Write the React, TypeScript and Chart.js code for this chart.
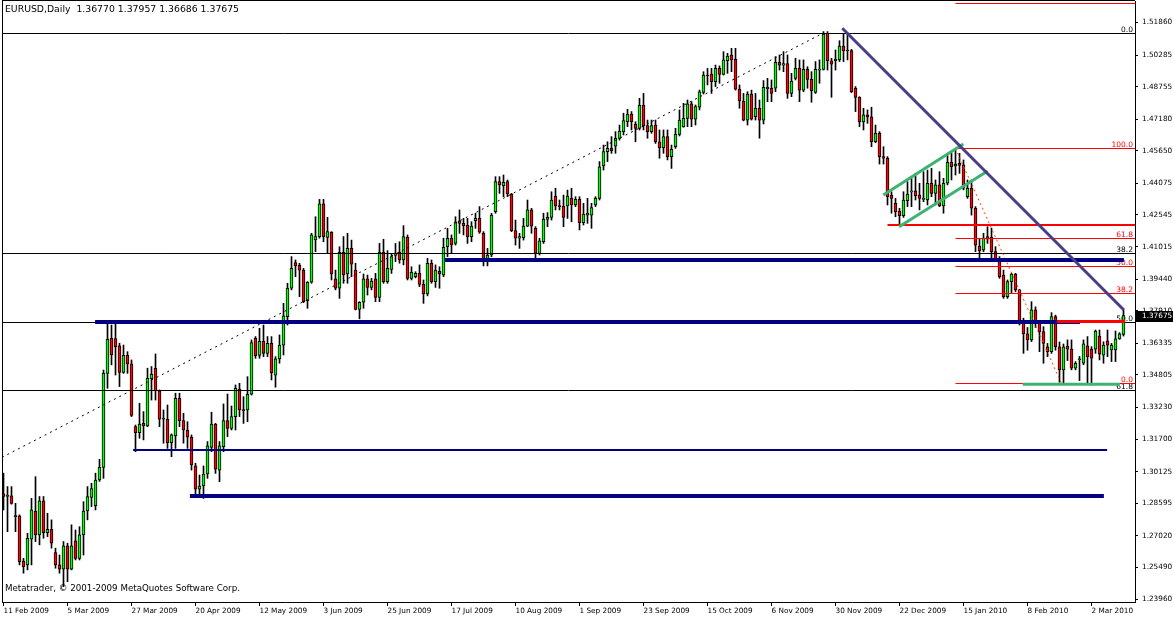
import React, { useEffect, useRef } from 'react';
import { Chart, registerables } from 'chart.js';

Chart.register(...registerables);

// ---------------- DATA ----------------
const opens = [
  1.2905, 1.2892, 1.2895, 1.2800, 1.2798, 1.2580, 1.2561, 1.2685, 1.2822, 1.2706,
  1.2871, 1.2717, 1.2733, 1.2621, 1.2561, 1.2540, 1.2653, 1.2540, 1.2677, 1.2593,
  1.2706, 1.2822, 1.2888, 1.2848, 1.2972, 1.3033, 1.3488, 1.3658, 1.3656, 1.3621,
  1.3493, 1.3575, 1.3534, 1.3230, 1.3201, 1.3246, 1.3234, 1.3462, 1.3512, 1.3404,
  1.3266, 1.3266, 1.3153, 1.3185, 1.3367, 1.3259, 1.3214, 1.3179, 1.3040, 1.2927,
  1.2943, 1.3001, 1.3130, 1.3243, 1.3020, 1.3133, 1.3259, 1.3222, 1.3279, 1.3412,
  1.3311, 1.3311, 1.3387, 1.3658, 1.3575, 1.3643, 1.3585, 1.3633, 1.3479, 1.3558,
  1.3625, 1.3762, 1.3900, 1.4024, 1.4011, 1.3988, 1.3840, 1.3929, 1.4134, 1.4150,
  1.4308, 1.4146, 1.4171, 1.3945, 1.3900, 1.4074, 1.3969, 1.4093, 1.3988, 1.3798,
  1.3832, 1.3945, 1.3904, 1.3945, 1.3856, 1.4075, 1.3932, 1.3991, 1.4059, 1.4075,
  1.4037, 1.4146, 1.3948, 1.3956, 1.3972, 1.3919, 1.3872, 1.4021, 1.3932, 1.3982,
  1.3964, 1.4101, 1.4142, 1.4117, 1.4226, 1.4214, 1.4204, 1.4150, 1.4227, 1.4238,
  1.4166, 1.4034, 1.4061, 1.4271, 1.4416, 1.4396, 1.4416, 1.4356, 1.4179, 1.4142,
  1.4145, 1.4201, 1.4279, 1.4190, 1.4069, 1.4125, 1.4233, 1.4243, 1.4346, 1.4300,
  1.4298, 1.4298, 1.4335, 1.4303, 1.4330, 1.4217, 1.4254, 1.4254, 1.4303, 1.4335,
  1.4492, 1.4561, 1.4577, 1.4588, 1.4625, 1.4658, 1.4706, 1.4743, 1.4693, 1.4674,
  1.4785, 1.4687, 1.4658, 1.4690, 1.4609, 1.4580, 1.4634, 1.4537, 1.4585, 1.4645,
  1.4682, 1.4722, 1.4792, 1.4718, 1.4776, 1.4848, 1.4932, 1.4937, 1.4900, 1.4964,
  1.4935, 1.5001, 1.5029, 1.5008, 1.4863, 1.4806, 1.4714, 1.4840, 1.4730, 1.4771,
  1.4714, 1.4866, 1.4868, 1.4868, 1.4993, 1.4980, 1.4987, 1.4843, 1.4916, 1.4964,
  1.4859, 1.4959, 1.4911, 1.4848, 1.4956, 1.4959, 1.5134, 1.5001, 1.5001, 1.5005,
  1.5072, 1.5053, 1.5050, 1.4868, 1.4824, 1.4705, 1.4739, 1.4729, 1.4609, 1.4650,
  1.4537, 1.4529, 1.4351, 1.4311, 1.4274, 1.4251, 1.4324, 1.4366, 1.4371, 1.4351,
  1.4330, 1.4327, 1.4408, 1.4359, 1.4400, 1.4298, 1.4408, 1.4509, 1.4492, 1.4505,
  1.4497, 1.4343, 1.4384, 1.4287, 1.4104, 1.4085, 1.4150, 1.4146, 1.4077, 1.4032,
  1.3964, 1.3859, 1.3932, 1.3969, 1.3892, 1.3730, 1.3679, 1.3650, 1.3795, 1.3730,
  1.3690, 1.3617, 1.3593, 1.3763, 1.3617, 1.3505, 1.3620, 1.3605, 1.3513, 1.3554,
  1.3537, 1.3621, 1.3605, 1.3605, 1.3669, 1.3576, 1.3645, 1.3601, 1.3601, 1.3655, 1.36770,
];

const highs = [
  1.3005, 1.2940, 1.2940, 1.2859, 1.2803, 1.2593, 1.2714, 1.2883, 1.2988, 1.2892,
  1.2892, 1.2811, 1.2779, 1.2642, 1.2609, 1.2674, 1.2666, 1.2755, 1.2730, 1.2746,
  1.2867, 1.2940, 1.2956, 1.3005, 1.3072, 1.3504, 1.3738, 1.3722, 1.3738, 1.3634,
  1.3625, 1.3593, 1.3553, 1.3238, 1.3343, 1.3303, 1.3513, 1.3521, 1.3582, 1.3408,
  1.3311, 1.3335, 1.3195, 1.3392, 1.3392, 1.3295, 1.3254, 1.3190, 1.3053, 1.2996,
  1.3040, 1.3158, 1.3300, 1.3246, 1.3158, 1.3340, 1.3388, 1.3330, 1.3432, 1.3440,
  1.3375, 1.3472, 1.3650, 1.3666, 1.3706, 1.3722, 1.3666, 1.3666, 1.3569, 1.3674,
  1.3827, 1.3924, 1.4053, 1.4037, 1.4021, 1.3996, 1.3932, 1.4166, 1.4246, 1.4330,
  1.4330, 1.4243, 1.4174, 1.3988, 1.4101, 1.4150, 1.4166, 1.4133, 1.4021, 1.3835,
  1.3969, 1.3964, 1.3948, 1.3972, 1.4117, 1.4137, 1.4082, 1.4064, 1.4117, 1.4125,
  1.4203, 1.4158, 1.4004, 1.3980, 1.4013, 1.3940, 1.4045, 1.4037, 1.4013, 1.4004,
  1.4142, 1.4190, 1.4158, 1.4246, 1.4279, 1.4238, 1.4238, 1.4222, 1.4263, 1.4295,
  1.4174, 1.4093, 1.4263, 1.4440, 1.4440, 1.4448, 1.4424, 1.4359, 1.4230, 1.4166,
  1.4238, 1.4327, 1.4287, 1.4198, 1.4142, 1.4263, 1.4266, 1.4367, 1.4384, 1.4327,
  1.4351, 1.4375, 1.4384, 1.4343, 1.4343, 1.4311, 1.4335, 1.4311, 1.4343, 1.4513,
  1.4593, 1.4609, 1.4634, 1.4658, 1.4690, 1.4747, 1.4766, 1.4755, 1.4706, 1.4819,
  1.4843, 1.4714, 1.4714, 1.4714, 1.4666, 1.4666, 1.4666, 1.4593, 1.4674, 1.4763,
  1.4795, 1.4811, 1.4803, 1.4787, 1.4859, 1.4948, 1.4964, 1.4964, 1.4980, 1.4976,
  1.5045, 1.5037, 1.5061, 1.5061, 1.4884, 1.4843, 1.4851, 1.4859, 1.4843, 1.4811,
  1.4905, 1.4916, 1.4908, 1.5021, 1.5029, 1.5045, 1.5029, 1.4940, 1.5013, 1.5005,
  1.5005, 1.4972, 1.4948, 1.4997, 1.5005, 1.5142, 1.5142, 1.5013, 1.5053, 1.5098,
  1.5134, 1.5137, 1.5056, 1.4876, 1.4827, 1.4771, 1.4763, 1.4776, 1.4690, 1.4658,
  1.4585, 1.4537, 1.4367, 1.4335, 1.4287, 1.4367, 1.4416, 1.4432, 1.4456, 1.4408,
  1.4464, 1.4472, 1.4480, 1.4424, 1.4464, 1.4432, 1.4553, 1.4553, 1.4577, 1.4553,
  1.4521, 1.4424, 1.4424, 1.4295, 1.4142, 1.4166, 1.4198, 1.4190, 1.4101, 1.4053,
  1.3988, 1.3940, 1.3972, 1.3972, 1.3895, 1.3755, 1.3710, 1.3835, 1.3810, 1.3738,
  1.3714, 1.3633, 1.3782, 1.3770, 1.3640, 1.3630, 1.3650, 1.3650, 1.3545, 1.3570,
  1.3650, 1.3666, 1.3617, 1.3698, 1.3698, 1.3641, 1.3698, 1.3633, 1.3693, 1.3685, 1.37957,
];

const lows = [
  1.2827, 1.2722, 1.2855, 1.2722, 1.2561, 1.2521, 1.2537, 1.2561, 1.2674, 1.2658,
  1.2690, 1.2698, 1.2642, 1.2545, 1.2521, 1.2456, 1.2480, 1.2537, 1.2585, 1.2585,
  1.2609, 1.2779, 1.2843, 1.2827, 1.2965, 1.2980, 1.3416, 1.3529, 1.3480, 1.3424,
  1.3488, 1.3488, 1.3279, 1.3109, 1.3174, 1.3166, 1.3230, 1.3359, 1.3359, 1.3230,
  1.3150, 1.3125, 1.3085, 1.3125, 1.3230, 1.3150, 1.3125, 1.3020, 1.2892, 1.2892,
  1.2883, 1.2980, 1.3109, 1.3004, 1.2964, 1.3109, 1.3182, 1.3214, 1.3214, 1.3279,
  1.3246, 1.3254, 1.3383, 1.3561, 1.3561, 1.3569, 1.3569, 1.3456, 1.3421, 1.3537,
  1.3577, 1.3722, 1.3892, 1.3956, 1.3859, 1.3830, 1.3803, 1.3924, 1.4077, 1.4142,
  1.4125, 1.4069, 1.3940, 1.3892, 1.3851, 1.3924, 1.3924, 1.3956, 1.3795, 1.3752,
  1.3803, 1.3867, 1.3892, 1.3835, 1.3835, 1.3924, 1.3924, 1.3972, 1.4029, 1.4021,
  1.4013, 1.3940, 1.3940, 1.3950, 1.3908, 1.3827, 1.3863, 1.3924, 1.3904, 1.3900,
  1.3956, 1.4053, 1.4069, 1.4109, 1.4166, 1.4158, 1.4117, 1.4125, 1.4190, 1.4166,
  1.4008, 1.4008, 1.4053, 1.4263, 1.4359, 1.4343, 1.4343, 1.4174, 1.4109, 1.4093,
  1.4133, 1.4198, 1.4166, 1.4040, 1.4061, 1.4117, 1.4198, 1.4230, 1.4279, 1.4279,
  1.4198, 1.4238, 1.4222, 1.4295, 1.4182, 1.4206, 1.4214, 1.4190, 1.4295, 1.4327,
  1.4472, 1.4513, 1.4553, 1.4553, 1.4617, 1.4642, 1.4682, 1.4666, 1.4609, 1.4666,
  1.4666, 1.4626, 1.4650, 1.4601, 1.4529, 1.4553, 1.4521, 1.4480, 1.4577, 1.4637,
  1.4679, 1.4682, 1.4682, 1.4690, 1.4763, 1.4840, 1.4884, 1.4843, 1.4876, 1.4892,
  1.4932, 1.4940, 1.4948, 1.4859, 1.4771, 1.4710, 1.4690, 1.4714, 1.4714, 1.4626,
  1.4695, 1.4803, 1.4803, 1.4851, 1.4956, 1.4948, 1.4819, 1.4827, 1.4908, 1.4803,
  1.4851, 1.4868, 1.4800, 1.4843, 1.4892, 1.4956, 1.4956, 1.4824, 1.4956, 1.4997,
  1.4997, 1.5005, 1.4847, 1.4755, 1.4682, 1.4666, 1.4698, 1.4585, 1.4604, 1.4501,
  1.4501, 1.4303, 1.4263, 1.4246, 1.4206, 1.4243, 1.4295, 1.4295, 1.4327, 1.4279,
  1.4319, 1.4303, 1.4343, 1.4303, 1.4295, 1.4263, 1.4400, 1.4424, 1.4448, 1.4456,
  1.4376, 1.4335, 1.4254, 1.4077, 1.4029, 1.4077, 1.4117, 1.4037, 1.4029, 1.3948,
  1.3851, 1.3851, 1.3875, 1.3883, 1.3722, 1.3585, 1.3600, 1.3642, 1.3710, 1.3593,
  1.3537, 1.3569, 1.3585, 1.3600, 1.3445, 1.3440, 1.3550, 1.3505, 1.3505, 1.3453,
  1.3530, 1.3440, 1.3432, 1.3585, 1.3553, 1.3537, 1.3569, 1.3545, 1.3545, 1.3653, 1.36686,
];

const closes = [
  1.2892, 1.2899, 1.2859, 1.2795, 1.2577, 1.2553, 1.2690, 1.2827, 1.2706, 1.2871,
  1.2717, 1.2733, 1.2666, 1.2561, 1.2540, 1.2653, 1.2540, 1.2653, 1.2593, 1.2706,
  1.2822, 1.2892, 1.2930, 1.2972, 1.3033, 1.3488, 1.3653, 1.3577, 1.3617, 1.3493,
  1.3575, 1.3534, 1.3284, 1.3201, 1.3242, 1.3234, 1.3464, 1.3483, 1.3404, 1.3266,
  1.3271, 1.3153, 1.3190, 1.3367, 1.3259, 1.3214, 1.3179, 1.3045, 1.2927, 1.2943,
  1.3001, 1.3137, 1.3243, 1.3024, 1.3137, 1.3259, 1.3222, 1.3279, 1.3416, 1.3311,
  1.3308, 1.3387, 1.3637, 1.3574, 1.3643, 1.3585, 1.3633, 1.3492, 1.3558, 1.3625,
  1.3767, 1.3900, 1.3996, 1.4008, 1.3988, 1.3835, 1.3929, 1.4158, 1.4150, 1.4308,
  1.4150, 1.4174, 1.3969, 1.3900, 1.4074, 1.3964, 1.4093, 1.4017, 1.3798, 1.3832,
  1.3945, 1.3904, 1.3935, 1.3856, 1.4075, 1.3932, 1.3996, 1.4053, 1.4067, 1.4037,
  1.4150, 1.3948, 1.3977, 1.3972, 1.3919, 1.3872, 1.4021, 1.3932, 1.3988, 1.3969,
  1.4098, 1.4142, 1.4110, 1.4222, 1.4214, 1.4203, 1.4150, 1.4201, 1.4238, 1.4171,
  1.4029, 1.4061, 1.4254, 1.4416, 1.4400, 1.4413, 1.4356, 1.4179, 1.4142, 1.4150,
  1.4201, 1.4279, 1.4201, 1.4069, 1.4129, 1.4233, 1.4243, 1.4327, 1.4298, 1.4295,
  1.4243, 1.4346, 1.4303, 1.4330, 1.4217, 1.4259, 1.4263, 1.4290, 1.4335, 1.4488,
  1.4561, 1.4577, 1.4566, 1.4625, 1.4661, 1.4711, 1.4743, 1.4706, 1.4674, 1.4785,
  1.4687, 1.4658, 1.4687, 1.4609, 1.4580, 1.4634, 1.4537, 1.4572, 1.4645, 1.4714,
  1.4722, 1.4792, 1.4718, 1.4779, 1.4851, 1.4932, 1.4927, 1.4900, 1.4964, 1.4935,
  1.5005, 1.5024, 1.5005, 1.4863, 1.4806, 1.4714, 1.4840, 1.4718, 1.4771, 1.4714,
  1.4872, 1.4872, 1.4843, 1.4993, 1.4980, 1.4987, 1.4843, 1.4903, 1.4964, 1.4859,
  1.4959, 1.4911, 1.4856, 1.4959, 1.4959, 1.5130, 1.5001, 1.4984, 1.5008, 1.5072,
  1.5048, 1.5048, 1.4851, 1.4824, 1.4705, 1.4739, 1.4729, 1.4609, 1.4650, 1.4537,
  1.4529, 1.4343, 1.4335, 1.4271, 1.4251, 1.4327, 1.4356, 1.4371, 1.4348, 1.4335,
  1.4335, 1.4408, 1.4359, 1.4400, 1.4298, 1.4408, 1.4509, 1.4488, 1.4501, 1.4495,
  1.4384, 1.4384, 1.4287, 1.4109, 1.4082, 1.4142, 1.4138, 1.4077, 1.4037, 1.3956,
  1.3859, 1.3932, 1.3969, 1.3892, 1.3730, 1.3679, 1.3650, 1.3795, 1.3730, 1.3690,
  1.3633, 1.3593, 1.3763, 1.3617, 1.3505, 1.3617, 1.3605, 1.3513, 1.3537, 1.3557,
  1.3631, 1.3569, 1.3561, 1.3693, 1.3581, 1.3625, 1.3625, 1.3625, 1.3655, 1.3679, 1.37675,
];

const dateTickIndex = [0, 16, 32, 48, 64, 80, 96, 112, 128, 144, 160, 176, 192, 208, 224, 240, 256, 272];
const dateTickLabels = [
  '11 Feb 2009', '5 Mar 2009', '27 Mar 2009', '20 Apr 2009', '12 May 2009', '3 Jun 2009',
  '25 Jun 2009', '17 Jul 2009', '10 Aug 2009', '1 Sep 2009', '23 Sep 2009', '15 Oct 2009',
  '6 Nov 2009', '30 Nov 2009', '22 Dec 2009', '15 Jan 2010', '8 Feb 2010', '2 Mar 2010',
];
const priceTicks = [
  1.51860, 1.50285, 1.48755, 1.47180, 1.45650, 1.44075, 1.42545, 1.41015, 1.39440, 1.37910,
  1.36335, 1.34805, 1.33230, 1.31700, 1.30125, 1.28595, 1.27020, 1.25490, 1.23960,
];

const titleText = 'EURUSD,Daily  1.36770 1.37957 1.36686 1.37675';
const copyrightText = 'Metatrader, \u00A9 2001-2009 MetaQuotes Software Corp.';
const lastPrice = 1.37675;

// Fibonacci objects (level prices)
const blackFibLevels = [1.513286, 1.406806, 1.373410, 1.340498];
const blackFibNames = ['0.0', '38.2', '50.0', '61.8'];
const redFibFrom = 238;
const redFibLevels = [1.343886, 1.387448, 1.400514, 1.414066, 1.457626, 1.527806];
const redFibNames = ['0.0', '38.2', '50.0', '61.8', '100.0', '161.8'];
const redFibAnchorX = [238, 264.5];
const redFibAnchorY = [1.457626, 1.343886];

// horizontal levels (price) with bar-index spans
const navyLevels = [1.373652, 1.40366, 1.31170, 1.289436];
const navyFrom = [22.9, 110.4, 32.4, 46.6];
const navyTo = [269.1, 280.1, 275.9, 275.1];
const redLevelA = { from: 221, to: 290, price: 1.42060 };
const redLevelB = { from: 263.4, to: 280.4, price: 1.37389 };
const greenBase = { from: 254.8, to: 279.1, price: 1.34355 };

// trend lines [x0, y0, x1, y1] in bar-index / price
const dashedTrend = [-0.375, 1.30817, 204.8, 1.51338];
const slateTrend = [209.7, 1.51580, 280.1, 1.37946];
const greenUpper = [219.95, 1.43512, 239.95, 1.45980];
const greenLower = [223.9, 1.41978, 246.05, 1.44674];

// --------------- CHART ---------------
const X_MIN = -0.375;
const X_MAX = 282.875;
const Y_MIN = 1.238152;
const Y_MAX = 1.529016;

function seg(x0: number, y0: number, x1: number, y1: number, color: string, width: number, order: number, dash: number[] = []) {
  return {
    type: 'line' as const,
    data: [{ x: x0, y: y0 }, { x: x1, y: y1 }],
    borderColor: color,
    borderWidth: width,
    borderDash: dash,
    pointRadius: 0,
    fill: false,
    tension: 0,
    order,
  };
}

const AXIS_FONT = { family: 'DejaVu Sans', size: 7.3 };

const mtPlugin = {
  id: 'mtPlugin',
  beforeDraw(chart: any) {
    const { ctx } = chart;
    ctx.save();
    ctx.fillStyle = '#ffffff';
    ctx.fillRect(0, 0, chart.width, chart.height);
    ctx.restore();
  },
  beforeDatasetsDraw(chart: any) {
    const { ctx, chartArea: a, scales } = chart;
    const y = scales.y;
    ctx.save();
    ctx.font = '7.5px "DejaVu Sans"';
    ctx.textAlign = 'right';
    ctx.textBaseline = 'alphabetic';
    blackFibLevels.forEach((p, k) => {
      const py = y.getPixelForValue(p);
      if (py - 8 < a.top) return;
      ctx.fillStyle = '#000000';
      ctx.fillText(blackFibNames[k], a.right - 2, py - 2);
    });
    redFibLevels.forEach((p, k) => {
      const py = y.getPixelForValue(p);
      if (py - 8 < a.top) return;
      ctx.fillStyle = '#ff0000';
      ctx.fillText(redFibNames[k], a.right - 2, py - 2);
    });
    ctx.restore();
  },
  afterDraw(chart: any) {
    const { ctx, chartArea: a, scales } = chart;
    const y = scales.y;
    ctx.save();
    // frame (left and top)
    ctx.fillStyle = '#000000';
    ctx.fillRect(a.left, 0, 1, a.bottom);
    ctx.fillRect(a.left, 0, a.right - a.left, 1);
    // title
    ctx.font = '9.3px "DejaVu Sans"';
    ctx.textAlign = 'left';
    ctx.textBaseline = 'middle';
    ctx.fillStyle = '#000000';
    ctx.fillText(titleText, 5, 10);
    // copyright
    ctx.font = '8.7px "DejaVu Sans"';
    ctx.fillText(copyrightText, 5, 589);
    // last price box
    const py = Math.round(y.getPixelForValue(lastPrice));
    ctx.fillStyle = '#000000';
    ctx.fillRect(a.right + 1, py - 5, chart.width - a.right - 1, 11);
    ctx.fillStyle = '#ffffff';
    ctx.font = `${AXIS_FONT.size}px "DejaVu Sans"`;
    ctx.fillText(lastPrice.toFixed(5), a.right + 7, py + 0.5);
    ctx.restore();
  },
};

export default function App() {
  const ref = useRef<HTMLCanvasElement | null>(null);

  useEffect(() => {
    if (!ref.current) return;
    const idx = opens.map((_, i) => i);
    const wickData = idx.map((i) => ({ x: i, y: [lows[i], highs[i]] }));
    const bodyData = idx.map((i) => ({ x: i, y: [Math.min(opens[i], closes[i]), Math.max(opens[i], closes[i])] }));
    const bodyColors = idx.map((i) => (closes[i] >= opens[i] ? '#00ff00' : '#ff0000'));

    const datasets: any[] = [];
    // candles
    datasets.push({
      type: 'bar', data: bodyData, backgroundColor: bodyColors, borderColor: '#000000', borderWidth: 1,
      borderSkipped: false, barThickness: 3, grouped: false, minBarLength: 1, order: 40,
    });
    datasets.push({
      type: 'bar', data: wickData, backgroundColor: '#000000', borderWidth: 0,
      barThickness: 1, grouped: false, minBarLength: 1, order: 50,
    });
    // black fib (full width)
    blackFibLevels.forEach((p) => datasets.push(seg(-5, p, 300, p, '#000000', 1, 32)));
    // red fib
    redFibLevels.forEach((p) => datasets.push(seg(redFibFrom, p, 300, p, '#ff0000', 1, 31)));
    datasets.push(seg(redFibAnchorX[0], redFibAnchorY[0], redFibAnchorX[1], redFibAnchorY[1], '#ff4500', 1, 30, [2, 3]));
    // dashed trend
    datasets.push(seg(dashedTrend[0], dashedTrend[1], dashedTrend[2], dashedTrend[3], '#000000', 1, 29, [2, 4]));
    // navy levels
    navyLevels.forEach((p, k) => datasets.push(seg(navyFrom[k], p, navyTo[k], p, '#000080', k === 2 ? 2 : 4, 20)));
    // red thick levels
    datasets.push(seg(redLevelA.from, redLevelA.price, redLevelA.to, redLevelA.price, '#ff0000', 2, 15));
    datasets.push(seg(redLevelB.from, redLevelB.price, redLevelB.to, redLevelB.price, '#ff0000', 3, 14));
    // green channel
    datasets.push(seg(greenUpper[0], greenUpper[1], greenUpper[2], greenUpper[3], '#3cb371', 3, 10));
    datasets.push(seg(greenLower[0], greenLower[1], greenLower[2], greenLower[3], '#3cb371', 3, 10));
    datasets.push(seg(greenBase.from, greenBase.price, greenBase.to, greenBase.price, '#3cb371', 3, 10));
    // slate trend line
    datasets.push(seg(slateTrend[0], slateTrend[1], slateTrend[2], slateTrend[3], '#483d8b', 3, 5));

    const chart = new Chart(ref.current, {
      type: 'bar',
      data: { datasets },
      options: {
        responsive: false,
        animation: false,
        devicePixelRatio: 1,
        events: [],
        layout: { padding: { left: 2, top: 1, right: 0, bottom: 0 } },
        plugins: { legend: { display: false }, tooltip: { enabled: false }, title: { display: false } },
        scales: {
          x: {
            type: 'linear', min: X_MIN, max: X_MAX, offset: false,
            grid: { display: true, drawOnChartArea: false, drawTicks: true, tickLength: 4, color: '#000000', offset: false },
            border: { display: true, color: '#000000' },
            ticks: {
              autoSkip: false, maxRotation: 0, minRotation: 0, align: 'start', padding: 1, color: '#000000',
              font: AXIS_FONT,
              callback: (_v: any, i: number) => dateTickLabels[i] ?? '',
            },
            afterBuildTicks: (s: any) => { s.ticks = dateTickIndex.map((v) => ({ value: v })); },
            afterFit: (s: any) => {
              s.height = 16;
              s.paddingLeft = 0; s.paddingRight = 0; s.paddingTop = 0; s.paddingBottom = 0;
            },
          },
          y: {
            type: 'linear', position: 'right', min: Y_MIN, max: Y_MAX, beginAtZero: false,
            grid: { display: true, drawOnChartArea: false, drawTicks: true, tickLength: 3, color: '#000000' },
            border: { display: true, color: '#000000' },
            ticks: {
              autoSkip: false, padding: 4, color: '#000000', font: AXIS_FONT,
              callback: (v: any) => Number(v).toFixed(5),
            },
            afterBuildTicks: (s: any) => { s.ticks = priceTicks.map((v) => ({ value: v })); },
            afterFit: (s: any) => {
              s.width = 38;
              s.paddingLeft = 0; s.paddingRight = 0; s.paddingTop = 0; s.paddingBottom = 0;
            },
          },
        },
      } as any,
      plugins: [mtPlugin],
    });
    return () => chart.destroy();
  }, []);

  return (
    <div style={{ position: 'absolute', left: 0, top: 0, width: 1173, height: 618, background: '#ffffff' }}>
      <canvas ref={ref} width={1173} height={618} style={{ display: 'block', width: 1173, height: 618 }} />
    </div>
  );
}
